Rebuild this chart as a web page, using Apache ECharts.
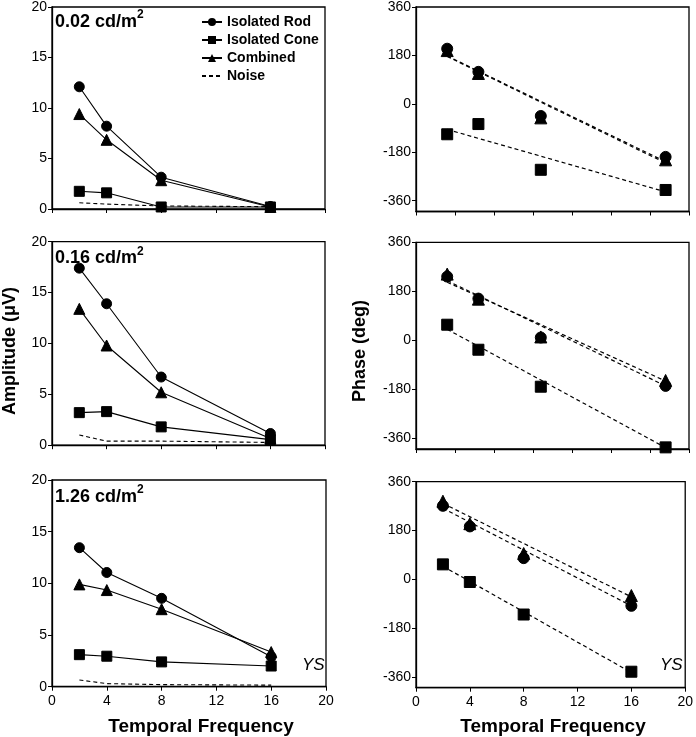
<!DOCTYPE html>
<html>
<head>
<meta charset="utf-8">
<script src="https://cdn.jsdelivr.net/npm/echarts@6/dist/echarts.min.js"></script>
<style>
html,body{margin:0;padding:0;background:#fff;}
#c{width:696px;height:737px;}
</style>
</head>
<body>
<div id="c"></div>
<script>
// ---- data ----
const freqs = [2, 4, 8, 16];
const fitX = [2, 16];
const xTicksAmp = [0, 4, 8, 12, 16, 20];
const phaseTicks = [-360, -180, 0, 180, 360];
const luminances = ['0.02', '0.16', '1.26'];

// Amplitude (µV)
const amp002Rod = [12.1, 8.2, 3.15, 0.25];
const amp002Comb = [9.4, 6.85, 2.85, 0.2];
const amp002Cone = [1.75, 1.6, 0.2, 0.2];
const amp002Noise = [0.62, 0.48, 0.3, 0.23];

const amp016Rod = [17.4, 13.9, 6.7, 1.15];
const amp016Comb = [13.4, 9.8, 5.2, 0.65];
const amp016Cone = [3.2, 3.3, 1.8, 0.55];
const amp016Noise = [1.0, 0.4, 0.4, 0.27];

const amp126Rod = [13.45, 11.05, 8.55, 2.9];
const amp126Comb = [9.9, 9.35, 7.5, 3.35];
const amp126Cone = [3.1, 2.95, 2.4, 2.0];
const amp126Noise = [0.65, 0.3, 0.2, 0.15];

// Phase (deg)
const ph002Rod = [205, 119, -45, -197];
const ph002Comb = [198, 113, -52, -208];
const ph002Cone = [-113, -75, -245, -320];
const ph002RodFit = [178, -215];
const ph002CombFit = [176, -220];
const ph002ConeFit = [-95, -327];

const ph016Rod = [234, 153, 10, -168];
const ph016Comb = [243, 151, 12, -148];
const ph016Cone = [57, -35, -171, -394];
const ph016RodFit = [219, -168];
const ph016CombFit = [213, -150];
const ph016ConeFit = [40, -395];

const ph126Rod = [271, 195, 78, -98];
const ph126Comb = [288, 205, 95, -60];
const ph126Cone = [55, -10, -130, -341];
const ph126RodFit = [262, -98];
const ph126CombFit = [280, -65];
const ph126ConeFit = [48, -344];

// ---- build ----
const FONT = 'Arial, "Liberation Sans", sans-serif';
function pairs(xs, ys) { return xs.map((x, i) => [x, ys[i]]); }

const grids = [
  {left: 52, top: 5, width: 273, height: 204},
  {left: 416, top: 6, width: 273, height: 205.5},
  {left: 52, top: 241.7, width: 273, height: 203.5},
  {left: 416, top: 242.3, width: 273, height: 206.7},
  {left: 52, top: 480, width: 274, height: 206.7},
  {left: 416, top: 481.7, width: 273, height: 206}
].map(g => Object.assign({show: true, borderColor: '#000', borderWidth: 1.3, containLabel: false}, g));

const axisCommon = {
  axisLine: {show: true, onZero: false, lineStyle: {color: '#000', width: 1.3}},
  axisTick: {show: true, inside: false, length: 4, lineStyle: {color: '#000', width: 1}},
  axisLabel: {color: '#000', fontSize: 14, fontFamily: FONT, margin: 5},
  splitLine: {show: false}
};

const xAxes = [], yAxes = [];
for (let r = 0; r < 3; r++) {
  const last = r === 2;
  // left amplitude
  xAxes.push(Object.assign({}, axisCommon, {
    type: 'value', gridIndex: 2 * r, min: 0, max: 20, interval: 4,
    axisLabel: Object.assign({}, axisCommon.axisLabel, {show: last, margin: 7})
  }));
  yAxes.push(Object.assign({}, axisCommon, {
    type: 'value', gridIndex: 2 * r, min: 0, max: 20, interval: 5
  }));
  // right phase
  if (last) {
    xAxes.push(Object.assign({}, axisCommon, {
      type: 'value', gridIndex: 2 * r + 1, min: 0, max: 20, interval: 4,
      axisLabel: Object.assign({}, axisCommon.axisLabel, {show: true, margin: 7})
    }));
  } else {
    xAxes.push(Object.assign({}, axisCommon, {
      type: 'value', gridIndex: 2 * r + 1, min: 0, max: 17.5, interval: 2.5,
      axisLabel: Object.assign({}, axisCommon.axisLabel, {show: false})
    }));
  }
  yAxes.push(Object.assign({}, axisCommon, {
    type: 'value', gridIndex: 2 * r + 1, min: -400, max: 360,
    axisTick: Object.assign({}, axisCommon.axisTick, {customValues: phaseTicks}),
    axisLabel: Object.assign({}, axisCommon.axisLabel, {customValues: phaseTicks})
  }));
}

const ampSets = [
  [amp002Rod, amp002Comb, amp002Cone, amp002Noise],
  [amp016Rod, amp016Comb, amp016Cone, amp016Noise],
  [amp126Rod, amp126Comb, amp126Cone, amp126Noise]
];
const phSets = [
  [ph002Rod, ph002Comb, ph002Cone, ph002RodFit, ph002CombFit, ph002ConeFit],
  [ph016Rod, ph016Comb, ph016Cone, ph016RodFit, ph016CombFit, ph016ConeFit],
  [ph126Rod, ph126Comb, ph126Cone, ph126RodFit, ph126CombFit, ph126ConeFit]
];

const black = '#000';
const series = [];
for (let r = 0; r < 3; r++) {
  const li = 2 * r, ri = 2 * r + 1;
  const [rod, comb, cone, noise] = ampSets[r];
  const lineBase = {type: 'line', xAxisIndex: li, yAxisIndex: li, animation: false,
    lineStyle: {color: black, width: 1.1}, itemStyle: {color: black, borderColor: black}};
  series.push(Object.assign({}, lineBase, {name: 'Isolated Rod', symbol: 'circle', symbolSize: 10, data: pairs(freqs, rod), z: 3}));
  series.push(Object.assign({}, lineBase, {name: 'Isolated Cone', symbol: 'rect', symbolSize: 10, data: pairs(freqs, cone), z: 3}));
  series.push(Object.assign({}, lineBase, {name: 'Combined', symbol: 'triangle', symbolSize: 11, data: pairs(freqs, comb), z: 3}));
  series.push(Object.assign({}, lineBase, {name: 'Noise', symbol: 'none', showSymbol: false,
    lineStyle: {color: black, width: 1.1, type: [4, 3]}, data: pairs(freqs, noise), z: 2}));

  const [pRod, pComb, pCone, fRod, fComb, fCone] = phSets[r];
  const fitBase = {type: 'line', xAxisIndex: ri, yAxisIndex: ri, animation: false, symbol: 'none', showSymbol: false,
    lineStyle: {color: black, width: 1.2, type: [4, 3]}, z: 2};
  series.push(Object.assign({}, fitBase, {name: 'Combined fit', data: pairs(fitX, fComb)}));
  series.push(Object.assign({}, fitBase, {name: 'Rod fit', data: pairs(fitX, fRod)}));
  series.push(Object.assign({}, fitBase, {name: 'Cone fit', data: pairs(fitX, fCone)}));
  const scBase = {type: 'scatter', xAxisIndex: ri, yAxisIndex: ri, animation: false,
    itemStyle: {color: black, borderColor: black, opacity: 1}, z: 3};
  series.push(Object.assign({}, scBase, {name: 'Combined', symbol: 'triangle', symbolSize: 12, data: pairs(freqs, pComb)}));
  series.push(Object.assign({}, scBase, {name: 'Isolated Rod', symbol: 'circle', symbolSize: 11, data: pairs(freqs, pRod)}));
  series.push(Object.assign({}, scBase, {name: 'Isolated Cone', symbol: 'rect', symbolSize: 11, data: pairs(freqs, pCone)}));
}

const lumTops = [9, 245.5, 484];
const graphics = [];
luminances.forEach((l, i) => {
  graphics.push({
    type: 'text', left: 55, top: lumTops[i], z: 10,
    style: {
      text: '{b|' + l + ' cd/m}{s|2}',
      rich: {
        b: {fontSize: 18, fontWeight: 'bold', fontFamily: FONT, fill: '#000', lineHeight: 22, verticalAlign: 'bottom'},
        s: {fontSize: 12, fontWeight: 'bold', fontFamily: FONT, fill: '#000', lineHeight: 22, verticalAlign: 'top', padding: [0, 0, 0, 0]}
      }
    }
  });
});
graphics.push({type: 'text', x: 10, y: 351, rotation: Math.PI / 2,
  style: {text: 'Amplitude (\u03bcV)', font: 'bold 18px ' + FONT, fill: '#000', textAlign: 'center', textVerticalAlign: 'middle'}});
graphics.push({type: 'text', x: 360, y: 351, rotation: Math.PI / 2,
  style: {text: 'Phase (deg)', font: 'bold 18px ' + FONT, fill: '#000', textAlign: 'center', textVerticalAlign: 'middle'}});
graphics.push({type: 'text', x: 201, y: 727, style: {text: 'Temporal Frequency', font: 'bold 19px ' + FONT, fill: '#000', textAlign: 'center', textVerticalAlign: 'middle'}});
graphics.push({type: 'text', x: 553, y: 727, style: {text: 'Temporal Frequency', font: 'bold 19px ' + FONT, fill: '#000', textAlign: 'center', textVerticalAlign: 'middle'}});
graphics.push({type: 'text', x: 302, y: 665, style: {text: 'YS', font: 'italic 17px ' + FONT, fill: '#000', textAlign: 'left', textVerticalAlign: 'middle'}});
graphics.push({type: 'text', x: 660, y: 665, style: {text: 'YS', font: 'italic 17px ' + FONT, fill: '#000', textAlign: 'left', textVerticalAlign: 'middle'}});

const option = {
  backgroundColor: '#fff',
  animation: false,
  grid: grids,
  xAxis: xAxes,
  yAxis: yAxes,
  legend: {
    orient: 'vertical', left: 196, top: 10, itemWidth: 20, itemHeight: 10, itemGap: 4,
    selectedMode: false,
    data: [
      'Isolated Rod', 'Isolated Cone', 'Combined',
      {name: 'Noise', itemStyle: {color: 'rgba(0,0,0,0)', borderColor: 'rgba(0,0,0,0)', opacity: 0}}
    ],
    textStyle: {fontSize: 14, fontWeight: 'bold', fontFamily: FONT, color: '#000'}
  },
  series: series,
  graphic: graphics
};

const chart = echarts.init(document.getElementById('c'), null, {renderer: 'canvas'});
chart.setOption(option);
</script>
</body>
</html>
